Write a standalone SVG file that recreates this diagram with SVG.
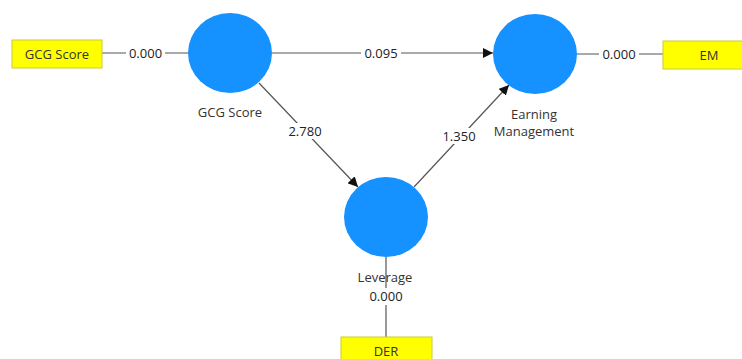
<svg xmlns="http://www.w3.org/2000/svg" width="742" height="359" viewBox="0 0 742 359">
<defs>
<style>
.lv{fill:#1592ff;}
.mv{fill:#ffff00;stroke:#cccc33;stroke-width:1;}
.ln{stroke:#555;stroke-width:1.2;fill:none;}
text{font-family:"Open Sans","Noto Sans","DejaVu Sans",sans-serif;font-size:13px;fill:#333;}
.val{fill:#222;}
.bg{fill:#fff;}
</style>
<marker id="ah" viewBox="0 0 10 10" refX="10" refY="5" markerWidth="10" markerHeight="10" markerUnits="userSpaceOnUse" orient="auto">
<path d="M0,0 L10,5 L0,10 z" fill="#111"/>
</marker>
</defs>
<rect width="742" height="359" fill="#fff"/>
<g id="connectors">
<line class="ln" x1="102" y1="53" x2="189" y2="53"/>
<line class="ln" x1="272" y1="53" x2="493" y2="53" marker-end="url(#ah)"/>
<line class="ln" x1="577" y1="54" x2="663" y2="54"/>
<line class="ln" x1="259" y1="83" x2="358" y2="187" marker-end="url(#ah)"/>
<line class="ln" x1="414" y1="187" x2="509" y2="85" marker-end="url(#ah)"/>
<line class="ln" x1="386" y1="257" x2="386" y2="337"/>
<rect class="bg" x="126" y="45" width="39" height="16"/>
<text class="val" x="145.5" y="58" text-anchor="middle">0.000</text>
<rect class="bg" x="361" y="45" width="40" height="16"/>
<text class="val" x="381" y="58" text-anchor="middle">0.095</text>
<rect class="bg" x="599" y="46" width="40" height="16"/>
<text class="val" x="619" y="59" text-anchor="middle">0.000</text>
<rect class="bg" x="285" y="123" width="40" height="16"/>
<text class="val" x="305" y="136" text-anchor="middle">2.780</text>
<rect class="bg" x="439" y="128" width="40" height="16"/>
<text class="val" x="459" y="141" text-anchor="middle">1.350</text>
<rect class="bg" x="366" y="288" width="40" height="17"/>
<text class="val" x="386" y="301" text-anchor="middle">0.000</text>
</g>
<g id="gcg-score-lv">
<ellipse class="lv" cx="230" cy="53" rx="42" ry="40"/>
<text x="230" y="117" text-anchor="middle">GCG Score</text>
</g>
<g id="earning-management-lv">
<ellipse class="lv" cx="535" cy="54" rx="42" ry="40"/>
<text x="534" y="119" text-anchor="middle">Earning</text>
<text x="534" y="135.5" text-anchor="middle">Management</text>
</g>
<g id="leverage-lv">
<ellipse class="lv" cx="386" cy="217" rx="42" ry="40"/>
<text x="385" y="282" text-anchor="middle">Leverage</text>
</g>
<g id="gcg-score-mv">
<rect class="mv" x="12" y="40" width="90" height="28"/>
<text x="57" y="59" text-anchor="middle">GCG Score</text>
</g>
<g id="em-mv">
<rect class="mv" x="663" y="41" width="82" height="28"/>
<text x="709" y="60" text-anchor="middle">EM</text>
</g>
<g id="der-mv">
<rect class="mv" x="341" y="337" width="91" height="26"/>
<text x="386" y="355.5" text-anchor="middle">DER</text>
</g>
</svg>
